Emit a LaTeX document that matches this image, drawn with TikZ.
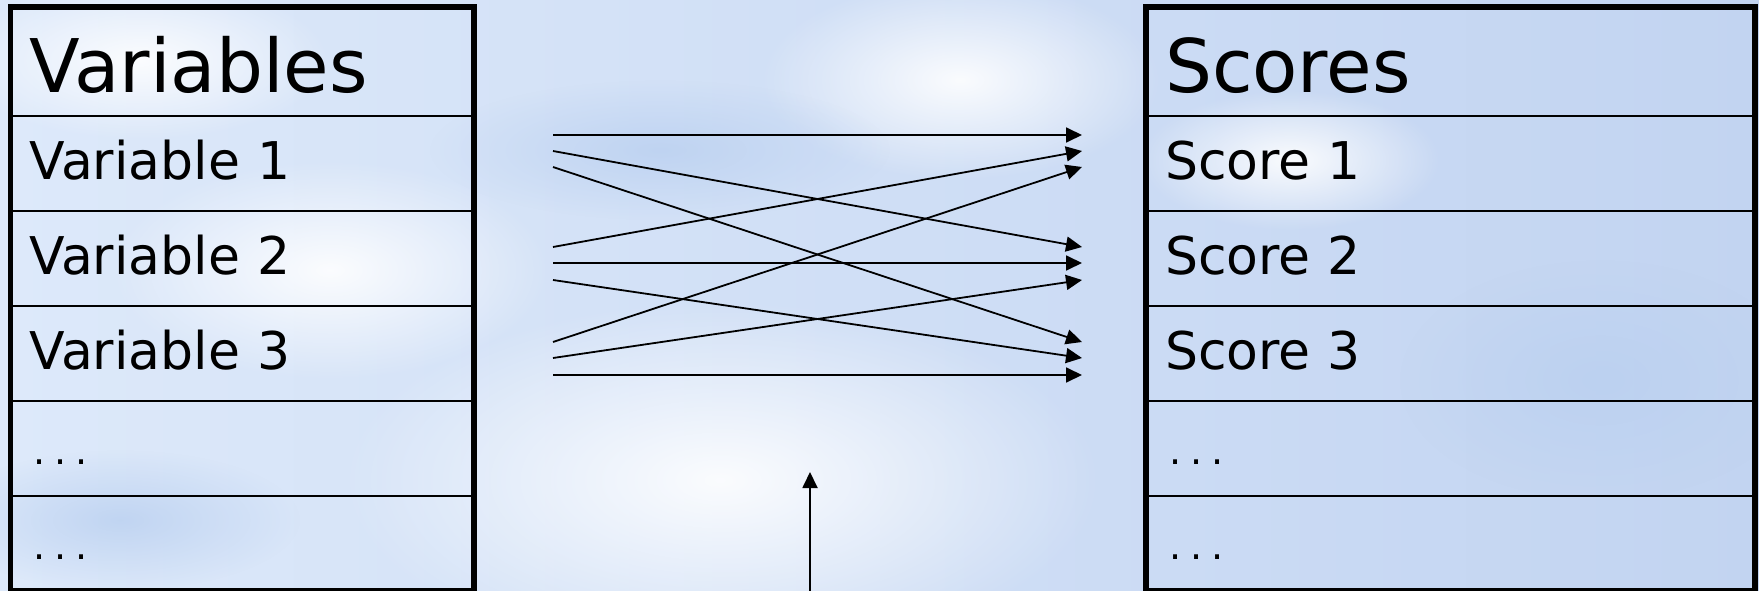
\documentclass[tikz,border=0pt]{standalone}
\usepackage{fontspec}
\setmainfont{DejaVu Sans}
\usetikzlibrary{arrows.meta,fadings}

\definecolor{skyblue}{RGB}{194,212,241}
\definecolor{skymid}{RGB}{221,233,250}
\definecolor{skylight}{RGB}{243,247,254}
\definecolor{skypatch}{RGB}{186,208,240}

\tikzfading[name=puff, inner color=transparent!0, outer color=transparent!100]

\newcommand{\moredots}{{\fontsize{38}{40}\selectfont\hspace{4pt}.\hspace{9pt}.\hspace{9pt}.}}

\begin{document}
\begin{tikzpicture}[x=1pt,y=1pt]

\tikzset{%
every node/.style={inner xsep=19pt, inner ysep=0pt, outer sep=0pt, node distance=95pt},%
every path/.style={line width=2pt},%
>={Triangle[length=16pt,width=15pt]}%
}

\tikzstyle{cell}=[draw, align=left, minimum height=95pt, text height=40pt, text depth=8pt, font=\fontsize{52}{60}\selectfont]
\tikzstyle{head}=[cell, minimum height=109pt, text height=62pt, text depth=0pt, font=\fontsize{74}{84}\selectfont]
\tikzstyle{varcol}=[text width=425.5pt]
\tikzstyle{scorecol}=[text width=571pt]
\tikzstyle{frame}=[line width=5.5pt]
\tikzstyle{link}=[->, line width=1.8pt]
\tikzstyle{cloud}=[white, path fading=puff, opacity=.9]
\tikzstyle{haze}=[skypatch, path fading=puff, opacity=.8]

\useasboundingbox (0,0) rectangle (1759,-591);
\shade[left color=skymid, middle color=skylight, right color=skyblue] (0,0) rectangle (1759,-591);
\fill[cloud] (720,-480) ellipse (380 and 180);
\fill[cloud] (330,-270) ellipse (220 and 110);
\fill[cloud] (960,-80) ellipse (200 and 100);
\fill[cloud] (1290,-160) ellipse (150 and 70);
\fill[cloud] (140,-60) ellipse (190 and 80);
\fill[haze] (660,-150) ellipse (230 and 70);
\fill[haze] (120,-520) ellipse (180 and 70);
\fill[haze] (1600,-380) ellipse (200 and 120);

% variables
\node[head, varcol] (vars) at (242.25,-61.5) {Variables};
\node[cell, varcol, below of=vars, node distance=102pt] (v1) {Variable 1};
\node[cell, varcol, below of=v1] (v2) {Variable 2};
\node[cell, varcol, below of=v2] (v3) {Variable 3};
\node[cell, varcol, below of=v3] (v4) {\moredots};
\node[cell, varcol, below of=v4] (v5) {\moredots};
\draw[frame] (vars.north west) rectangle (v5.south east);

% scores
\node[head, scorecol] (scores) at (1450.5,-61.5) {Scores};
\node[cell, scorecol, below of=scores, node distance=102pt] (s1) {Score 1};
\node[cell, scorecol, below of=s1] (s2) {Score 2};
\node[cell, scorecol, below of=s2] (s3) {Score 3};
\node[cell, scorecol, below of=s3] (s4) {\moredots};
\node[cell, scorecol, below of=s4] (s5) {\moredots};
\draw[frame] (scores.north west) rectangle (s5.south east);

% arrow ends
\coordinate (v1a) at (553,-135);
\coordinate (v1b) at (553,-151);
\coordinate (v1c) at (553,-167);
\coordinate (v2a) at (553,-247);
\coordinate (v2b) at (553,-263);
\coordinate (v2c) at (553,-280);
\coordinate (v3a) at (553,-342);
\coordinate (v3b) at (553,-358);
\coordinate (v3c) at (553,-375);

\coordinate (s1a) at (1082,-135);
\coordinate (s1b) at (1082,-151);
\coordinate (s1c) at (1082,-167);
\coordinate (s2a) at (1082,-247);
\coordinate (s2b) at (1082,-263);
\coordinate (s2c) at (1082,-280);
\coordinate (s3a) at (1082,-342);
\coordinate (s3b) at (1082,-358);
\coordinate (s3c) at (1082,-375);

\draw[link] (v1a) -- (s1a);
\draw[link] (v1b) -- (s2a);
\draw[link] (v1c) -- (s3a);
\draw[link] (v2a) -- (s1b);
\draw[link] (v2b) -- (s2b);
\draw[link] (v2c) -- (s3b);
\draw[link] (v3a) -- (s1c);
\draw[link] (v3b) -- (s2c);
\draw[link] (v3c) -- (s3c);

% pointer from below
\coordinate (foot) at (810,-591);
\coordinate (mark) at (810,-472);
\draw[link] (foot) -- (mark);

\end{tikzpicture}
\end{document}
